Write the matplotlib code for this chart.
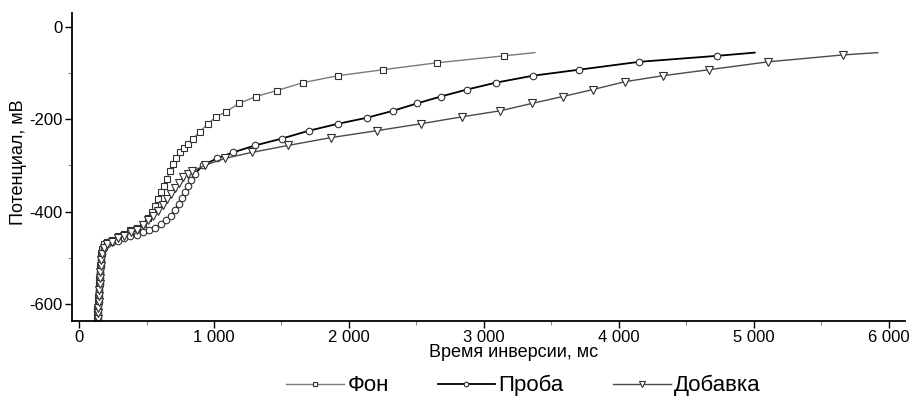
import matplotlib
matplotlib.use('Agg')
import matplotlib.pyplot as plt
from matplotlib.ticker import FuncFormatter, MultipleLocator

plt.rcParams['font.family'] = ['Liberation Sans', 'DejaVu Sans']

# время инверсии, мс / потенциал, мВ
fon_t = [133, 133, 133, 141, 141, 148, 148, 148, 156, 156, 163, 163, 170, 185, 207, 244,
         289, 333, 378, 430, 474, 511, 541, 563, 585, 607, 630, 652, 674, 696, 719, 748,
         778, 807, 844, 896, 956, 1015, 1089, 1185, 1311, 1467, 1659, 1919, 2252, 2652,
         3148, 3378]
fon_e = [-633, -620, -610, -597, -584, -571, -558, -545, -532, -519, -506, -493, -482, -471,
         -465, -461, -454, -448, -441, -435, -426, -415, -402, -387, -372, -357, -344, -329,
         -313, -298, -285, -272, -262, -253, -242, -227, -210, -195, -184, -166, -151, -138,
         -121, -106, -93, -78, -63, -56]

proba_t = [141, 141, 141, 148, 148, 148, 156, 156, 156, 163, 163, 170, 185, 207, 244, 289,
           333, 378, 430, 474, 519, 563, 607, 644, 681, 711, 741, 763, 785, 807, 830, 859,
           919, 1022, 1141, 1304, 1504, 1704, 1919, 2133, 2326, 2504, 2681, 2874, 3089,
           3363, 3704, 4148, 4726, 5007]
proba_e = [-633, -620, -608, -595, -582, -569, -556, -543, -530, -517, -504, -491, -480, -471,
           -467, -463, -458, -454, -450, -445, -441, -435, -428, -419, -409, -396, -383, -370,
           -357, -344, -331, -318, -300, -285, -272, -257, -242, -225, -210, -197, -182, -166,
           -151, -136, -121, -106, -93, -76, -63, -56]

dob_t = [141, 141, 141, 148, 148, 148, 156, 156, 156, 163, 163, 170, 185, 207, 244, 289,
         333, 385, 430, 474, 511, 548, 585, 622, 652, 681, 711, 741, 770, 807, 837, 933,
         1081, 1281, 1548, 1867, 2207, 2533, 2837, 3119, 3356, 3585, 3807, 4044, 4326,
         4667, 5104, 5659, 5919]
dob_e = [-633, -620, -608, -595, -582, -569, -556, -543, -530, -517, -504, -491, -480, -471,
         -465, -458, -452, -445, -439, -430, -419, -409, -398, -385, -372, -361, -350, -339,
         -326, -318, -313, -300, -285, -272, -257, -240, -225, -210, -195, -182, -166, -151,
         -136, -119, -106, -93, -76, -61, -56]

fig = plt.figure(figsize=(9.15, 4.07), dpi=100)
ax = fig.add_axes([0.0787, 0.2113, 0.9103, 0.757])

ax.plot(fon_t, fon_e, color='#7a7a7a', lw=1.0, marker='s', ms=4.4, mfc='white',
        mec='#303030', mew=0.8, markevery=slice(0, -1), label='Фон')
ax.plot(proba_t, proba_e, color='black', lw=1.3, marker='o', ms=4.7, mfc='white',
        mec='#303030', mew=0.8, markevery=slice(0, -1), label='Проба')
ax.plot(dob_t, dob_e, color='#4a4a4a', lw=1.0, marker='v', ms=5.8, mfc='white',
        mec='#303030', mew=0.8, markevery=slice(0, -1), label='Добавка')

ax.set_xlim(-52, 6120)
ax.set_ylim(-637, 30)
ax.spines['top'].set_visible(False)
ax.spines['right'].set_visible(False)
ax.spines['left'].set_linewidth(1.3)
ax.spines['bottom'].set_linewidth(1.3)

ax.xaxis.set_major_locator(MultipleLocator(1000))
ax.xaxis.set_minor_locator(MultipleLocator(500))
ax.yaxis.set_major_locator(MultipleLocator(200))
ax.yaxis.set_minor_locator(MultipleLocator(100))
ax.xaxis.set_major_formatter(FuncFormatter(lambda v, p: f'{int(v):,}'.replace(',', ' ')))
ax.yaxis.set_major_formatter(FuncFormatter(lambda v, p: f'{int(v)}'))
ax.tick_params(which='major', direction='out', length=5, width=1, labelsize=12, pad=1.5)
ax.tick_params(which='minor', direction='out', length=3, width=0.8, color='#888888')

ax.set_xlabel('Время инверсии, мс', fontsize=13)
ax.set_ylabel('Потенциал, мВ', fontsize=13)
ax.xaxis.set_label_coords(0.53, -0.075)
ax.yaxis.set_label_coords(-0.054, 0.515)

fig.legend(loc='center', bbox_to_anchor=(0.572, 0.052), ncol=3, frameon=False,
           fontsize=16, handlelength=2.6, columnspacing=2.2, handletextpad=0.15,
           markerscale=0.7)

fig.savefig('out.png', dpi=100)
